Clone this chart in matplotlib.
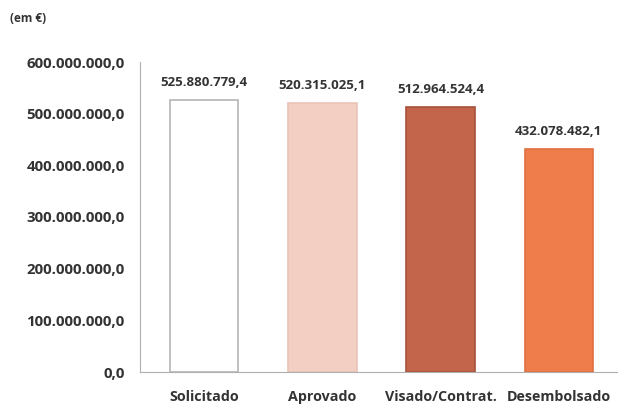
import numpy as np
import matplotlib
matplotlib.use('Agg')
import matplotlib.pyplot as plt
from matplotlib.ticker import FuncFormatter

# values in euros
categorias = ['Solicitado', 'Aprovado', 'Visado/Contrat.', 'Desembolsado']
valores = [525880779.4, 520315025.1, 512964524.4, 432078482.1]
rotulos = ['525.880.779,4', '520.315.025,1', '512.964.524,4', '432.078.482,1']
cores = ['#FFFFFF', '#F3CFC3', '#C2654B', '#EF7D4C']
bordas = ['#B5B5B5', '#E9C3B6', '#A8523C', '#E0703F']

plt.rcParams['font.family'] = ['Open Sans', 'DejaVu Sans']

def fmt_pt(v, pos):
    # 600000000 -> 600.000.000,0
    s = '{:,.1f}'.format(v)
    return s.replace(',', 'X').replace('.', ',').replace('X', '.')

fig = plt.figure(figsize=(6.18, 4.05), dpi=100)
ax = fig.add_axes([140/618, 1-372/405, 1-140/618, (372-62)/405])

x = np.arange(len(categorias))
ax.bar(x, valores, width=0.58, color=cores, edgecolor=bordas, linewidth=1.2)

for xi, v, r in zip(x, valores, rotulos):
    ax.annotate(r, (xi, v), xytext=(0, 8), textcoords='offset points',
                ha='center', va='bottom', fontsize=9.5, fontweight='bold', color='#333333')

ax.set_ylim(0, 600000000)
ax.set_xlim(-0.54, 3.5)
ax.set_yticks(np.arange(0, 600000001, 100000000))
ax.yaxis.set_major_formatter(FuncFormatter(fmt_pt))
ax.set_xticks(x)
ax.set_xticklabels(categorias)
ax.tick_params(axis='x', length=0, labelsize=10.3, colors='#333333', pad=13)
ax.tick_params(axis='y', length=0, labelsize=10.8, colors='#333333', pad=11)
for lab in ax.get_xticklabels() + ax.get_yticklabels():
    lab.set_fontweight('bold')

for s in ['top', 'right']:
    ax.spines[s].set_visible(False)
ax.spines['left'].set_color('#B0B0B0')
ax.spines['bottom'].set_color('#B0B0B0')

fig.text(10/618, 1-19/405, '(em €)', fontsize=8.5, fontweight='bold', color='#333333', va='center')

fig.savefig('out.png', dpi=100)
